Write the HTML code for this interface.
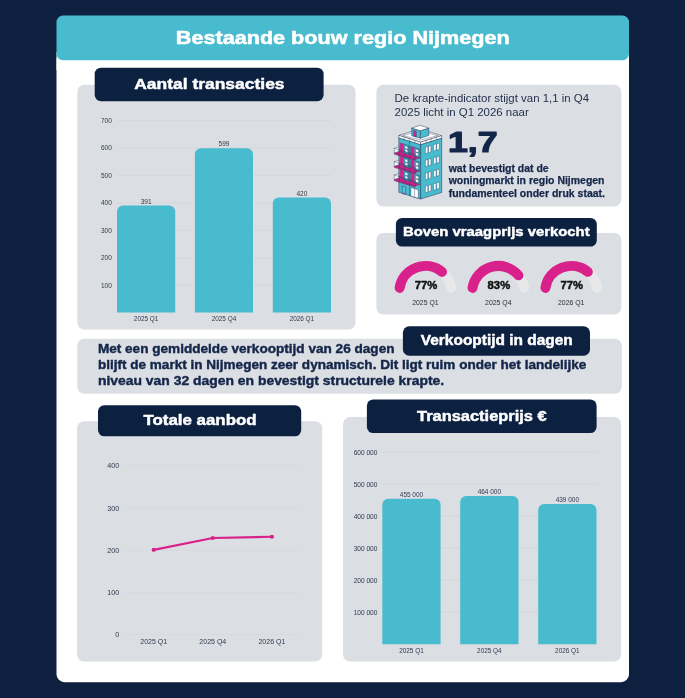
<!DOCTYPE html>
<html lang="nl"><head><meta charset="utf-8"><title>Bestaande bouw regio Nijmegen</title>
<style>
html,body{margin:0;padding:0;background:#0d2040;}
body{width:685px;height:698px;overflow:hidden;font-family:"Liberation Sans",sans-serif;}
svg{display:block;will-change:transform;font-family:"Liberation Sans",sans-serif;}
</style></head><body>
<svg width="685" height="698" viewBox="0 0 685 698">
<rect x="0.00" y="0.00" width="685.00" height="698.00" rx="0" ry="0" fill="#0d2040"/>
<rect x="56.50" y="52.00" width="572.50" height="630.20" rx="8" ry="8" fill="#ffffff"/>
<rect x="56.50" y="52.00" width="572.50" height="18.00" rx="0" ry="0" fill="#ffffff"/>
<rect x="56.50" y="15.60" width="572.50" height="44.60" rx="6.5" ry="6.5" fill="#48bbce"/>
<text x="175.80" y="43.50" font-size="19.0" font-weight="bold" fill="#ffffff" textLength="333.90" lengthAdjust="spacingAndGlyphs" stroke="#ffffff" stroke-width="0.55" stroke-linejoin="round">Bestaande bouw regio Nijmegen</text>
<rect x="77.40" y="84.80" width="278.10" height="244.70" rx="7" ry="7" fill="#dbdee2"/>
<rect x="94.70" y="67.70" width="228.90" height="33.50" rx="6.3" ry="6.3" fill="#0c2040"/>
<text x="134.20" y="88.60" font-size="14.7" font-weight="bold" fill="#ffffff" textLength="150.40" lengthAdjust="spacingAndGlyphs" stroke="#ffffff" stroke-width="0.45" stroke-linejoin="round">Aantal transacties</text>
<line x1="117" x2="331" y1="285.29" y2="285.29" stroke="#d0d3d8" stroke-width="0.65"/>
<text x="111.80" y="287.66" font-size="6.5" text-anchor="end" fill="#2f3950">100</text>
<line x1="117" x2="331" y1="257.83" y2="257.83" stroke="#d0d3d8" stroke-width="0.65"/>
<text x="111.80" y="260.20" font-size="6.5" text-anchor="end" fill="#2f3950">200</text>
<line x1="117" x2="331" y1="230.37" y2="230.37" stroke="#d0d3d8" stroke-width="0.65"/>
<text x="111.80" y="232.74" font-size="6.5" text-anchor="end" fill="#2f3950">300</text>
<line x1="117" x2="331" y1="202.91" y2="202.91" stroke="#d0d3d8" stroke-width="0.65"/>
<text x="111.80" y="205.28" font-size="6.5" text-anchor="end" fill="#2f3950">400</text>
<line x1="117" x2="331" y1="175.45" y2="175.45" stroke="#d0d3d8" stroke-width="0.65"/>
<text x="111.80" y="177.82" font-size="6.5" text-anchor="end" fill="#2f3950">500</text>
<line x1="117" x2="331" y1="147.99" y2="147.99" stroke="#d0d3d8" stroke-width="0.65"/>
<text x="111.80" y="150.36" font-size="6.5" text-anchor="end" fill="#2f3950">600</text>
<line x1="117" x2="331" y1="120.53" y2="120.53" stroke="#d0d3d8" stroke-width="0.65"/>
<text x="111.80" y="122.90" font-size="6.5" text-anchor="end" fill="#2f3950">700</text>
<path d="M117.00 312.50V211.38a6 6 0 0 1 6 -6H169.20a6 6 0 0 1 6 6V312.50Z" fill="#48bbce"/>
<text x="146.10" y="203.55" font-size="6.5" text-anchor="middle" fill="#2f3950">391</text>
<text x="146.10" y="320.83" font-size="6.4" text-anchor="middle" fill="#2f3950">2025 Q1</text>
<path d="M194.90 312.50V154.26a6 6 0 0 1 6 -6H247.00a6 6 0 0 1 6 6V312.50Z" fill="#48bbce"/>
<text x="223.95" y="146.43" font-size="6.5" text-anchor="middle" fill="#2f3950">599</text>
<text x="223.95" y="320.83" font-size="6.4" text-anchor="middle" fill="#2f3950">2025 Q4</text>
<path d="M272.80 312.50V203.42a6 6 0 0 1 6 -6H325.00a6 6 0 0 1 6 6V312.50Z" fill="#48bbce"/>
<text x="301.90" y="195.59" font-size="6.5" text-anchor="middle" fill="#2f3950">420</text>
<text x="301.90" y="320.83" font-size="6.4" text-anchor="middle" fill="#2f3950">2026 Q1</text>
<rect x="376.40" y="84.70" width="244.90" height="121.80" rx="7" ry="7" fill="#dbdee2"/>
<text x="394.60" y="102.30" font-size="11.4" font-weight="normal" fill="#24304f" textLength="194.50" lengthAdjust="spacingAndGlyphs">De krapte-indicator stijgt van 1,1 in Q4</text>
<text x="394.60" y="115.70" font-size="11.4" font-weight="normal" fill="#24304f" textLength="134.10" lengthAdjust="spacingAndGlyphs">2025 licht in Q1 2026 naar</text>
<text x="447.90" y="152.10" font-size="29.2" font-weight="bold" fill="#14264a" textLength="49.70" lengthAdjust="spacingAndGlyphs" stroke="#14264a" stroke-width="1.2" stroke-linejoin="round">1,7</text>
<text x="448.70" y="171.90" font-size="10.5" font-weight="bold" fill="#14264a" textLength="99.90" lengthAdjust="spacingAndGlyphs" stroke="#14264a" stroke-width="0.25" stroke-linejoin="round">wat bevestigt dat de</text>
<text x="448.70" y="184.40" font-size="10.5" font-weight="bold" fill="#14264a" textLength="155.80" lengthAdjust="spacingAndGlyphs" stroke="#14264a" stroke-width="0.25" stroke-linejoin="round">woningmarkt in regio Nijmegen</text>
<text x="448.70" y="196.80" font-size="10.5" font-weight="bold" fill="#14264a" textLength="156.30" lengthAdjust="spacingAndGlyphs" stroke="#14264a" stroke-width="0.25" stroke-linejoin="round">fundamenteel onder druk staat.</text>
<g>
<polygon points="398.80,135.40 419.90,128.86 441.70,135.62 420.60,142.16" fill="#ffffff" stroke="#14264a" stroke-width="0.45" stroke-linejoin="round"/>
<polygon points="402.64,135.40 419.90,131.02 437.86,135.62 420.60,140.00" fill="#ffffff" stroke="#14264a" stroke-width="0.35" stroke-linejoin="round"/>
<polygon points="398.80,135.40 420.60,142.16 420.60,144.76 398.80,138.00" fill="#ffffff" stroke="#14264a" stroke-width="0.45" stroke-linejoin="round"/>
<polygon points="420.60,142.16 441.70,135.62 441.70,138.22 420.60,144.76" fill="#ffffff" stroke="#14264a" stroke-width="0.45" stroke-linejoin="round"/>
<line x1="404.20" y1="137.07" x2="404.20" y2="139.67" stroke="#14264a" stroke-width="0.3" stroke-linecap="round"/>
<line x1="409.60" y1="138.75" x2="409.60" y2="141.35" stroke="#14264a" stroke-width="0.3" stroke-linecap="round"/>
<line x1="415.00" y1="140.42" x2="415.00" y2="143.02" stroke="#14264a" stroke-width="0.3" stroke-linecap="round"/>
<line x1="426.00" y1="140.48" x2="426.00" y2="143.08" stroke="#14264a" stroke-width="0.3" stroke-linecap="round"/>
<line x1="431.20" y1="138.87" x2="431.20" y2="141.47" stroke="#14264a" stroke-width="0.3" stroke-linecap="round"/>
<line x1="436.40" y1="137.26" x2="436.40" y2="139.86" stroke="#14264a" stroke-width="0.3" stroke-linecap="round"/>
<polygon points="398.80,138.00 420.60,144.76 420.60,199.06 398.80,192.30" fill="#48bbce" stroke="#14264a" stroke-width="0.45" stroke-linejoin="round"/>
<polygon points="420.60,144.76 441.70,138.22 441.70,192.52 420.60,199.06" fill="#48bbce" stroke="#14264a" stroke-width="0.45" stroke-linejoin="round"/>
<line x1="409.50" y1="141.32" x2="409.50" y2="195.62" stroke="#14264a" stroke-width="0.35" stroke-linecap="round"/>
<polygon points="411.70,128.10 420.40,130.70 420.40,138.30 411.70,135.70" fill="#48bbce" stroke="#14264a" stroke-width="0.45" stroke-linejoin="round"/>
<polygon points="420.40,130.70 428.80,128.10 428.80,135.50 420.40,138.30" fill="#48bbce" stroke="#14264a" stroke-width="0.45" stroke-linejoin="round"/>
<polygon points="411.70,128.10 419.90,125.30 428.80,128.10 420.40,130.70" fill="#ffffff" stroke="#14264a" stroke-width="0.45" stroke-linejoin="round"/>
<polygon points="413.70,130.42 416.30,131.23 416.30,136.93 413.70,136.12" fill="#d9218c" stroke="#14264a" stroke-width="0.3" stroke-linejoin="round"/>
<polygon points="425.40,147.17 427.80,146.43 427.80,152.93 425.40,153.67" fill="#ffffff" stroke="#14264a" stroke-width="0.35" stroke-linejoin="round"/>
<polygon points="428.50,146.21 430.90,145.47 430.90,151.97 428.50,152.71" fill="#ffffff" stroke="#14264a" stroke-width="0.35" stroke-linejoin="round"/>
<polygon points="433.60,144.63 436.05,143.87 436.05,150.37 433.60,151.13" fill="#ffffff" stroke="#14264a" stroke-width="0.35" stroke-linejoin="round"/>
<polygon points="436.75,143.65 439.20,142.89 439.20,149.39 436.75,150.15" fill="#ffffff" stroke="#14264a" stroke-width="0.35" stroke-linejoin="round"/>
<polygon points="425.40,160.22 427.80,159.48 427.80,165.98 425.40,166.72" fill="#ffffff" stroke="#14264a" stroke-width="0.35" stroke-linejoin="round"/>
<polygon points="428.50,159.26 430.90,158.52 430.90,165.02 428.50,165.76" fill="#ffffff" stroke="#14264a" stroke-width="0.35" stroke-linejoin="round"/>
<polygon points="433.60,157.68 436.05,156.92 436.05,163.42 433.60,164.18" fill="#ffffff" stroke="#14264a" stroke-width="0.35" stroke-linejoin="round"/>
<polygon points="436.75,156.70 439.20,155.94 439.20,162.44 436.75,163.20" fill="#ffffff" stroke="#14264a" stroke-width="0.35" stroke-linejoin="round"/>
<polygon points="425.40,173.27 427.80,172.53 427.80,179.03 425.40,179.77" fill="#ffffff" stroke="#14264a" stroke-width="0.35" stroke-linejoin="round"/>
<polygon points="428.50,172.31 430.90,171.57 430.90,178.07 428.50,178.81" fill="#ffffff" stroke="#14264a" stroke-width="0.35" stroke-linejoin="round"/>
<polygon points="433.60,170.73 436.05,169.97 436.05,176.47 433.60,177.23" fill="#ffffff" stroke="#14264a" stroke-width="0.35" stroke-linejoin="round"/>
<polygon points="436.75,169.75 439.20,168.99 439.20,175.49 436.75,176.25" fill="#ffffff" stroke="#14264a" stroke-width="0.35" stroke-linejoin="round"/>
<polygon points="425.40,186.32 427.80,185.58 427.80,192.08 425.40,192.82" fill="#ffffff" stroke="#14264a" stroke-width="0.35" stroke-linejoin="round"/>
<polygon points="428.50,185.36 430.90,184.62 430.90,191.12 428.50,191.86" fill="#ffffff" stroke="#14264a" stroke-width="0.35" stroke-linejoin="round"/>
<polygon points="433.60,183.78 436.05,183.02 436.05,189.52 433.60,190.28" fill="#ffffff" stroke="#14264a" stroke-width="0.35" stroke-linejoin="round"/>
<polygon points="436.75,182.80 439.20,182.04 439.20,188.54 436.75,189.30" fill="#ffffff" stroke="#14264a" stroke-width="0.35" stroke-linejoin="round"/>
<polygon points="400.20,142.83 408.60,145.44 408.60,154.54 400.20,151.93" fill="#3aa5bb" stroke="#14264a" stroke-width="0.3" stroke-linejoin="round"/>
<polygon points="410.60,146.06 419.40,148.79 419.40,157.89 410.60,155.16" fill="#3aa5bb" stroke="#14264a" stroke-width="0.3" stroke-linejoin="round"/>
<polygon points="400.20,143.03 403.70,144.12 403.70,153.02 400.20,151.93" fill="#d9218c"/>
<polygon points="410.80,146.32 414.40,147.44 414.40,156.34 410.80,155.22" fill="#d9218c"/>
<polygon points="404.90,145.69 407.70,146.56 407.70,149.26 404.90,148.39" fill="#ffffff" stroke="#14264a" stroke-width="0.3" stroke-linejoin="round"/>
<polygon points="404.90,149.19 407.70,150.06 407.70,152.76 404.90,151.89" fill="#ffffff" stroke="#14264a" stroke-width="0.3" stroke-linejoin="round"/>
<polygon points="415.50,148.98 418.50,149.91 418.50,152.61 415.50,151.68" fill="#ffffff" stroke="#14264a" stroke-width="0.3" stroke-linejoin="round"/>
<polygon points="415.50,152.48 418.50,153.41 418.50,156.11 415.50,155.18" fill="#ffffff" stroke="#14264a" stroke-width="0.3" stroke-linejoin="round"/>
<polygon points="398.80,151.50 419.60,157.95 415.10,159.40 394.30,152.95" fill="#d9218c" stroke="#14264a" stroke-width="0.3" stroke-linejoin="round"/>
<polygon points="394.30,152.95 415.10,159.40 415.10,160.70 394.30,154.25" fill="#d9218c" stroke="#14264a" stroke-width="0.25" stroke-linejoin="round"/>
<polygon points="394.30,152.95 398.80,151.50 398.80,146.90 394.30,148.35" fill="#ffffff" fill-opacity="0.75" stroke="#14264a" stroke-width="0.35" stroke-linejoin="round"/>
<line x1="394.30" y1="148.35" x2="415.10" y2="154.80" stroke="#14264a" stroke-width="0.35" stroke-linecap="round"/>
<line x1="415.10" y1="154.80" x2="415.10" y2="159.40" stroke="#14264a" stroke-width="0.35" stroke-linecap="round"/>
<line x1="399.50" y1="149.96" x2="399.50" y2="154.56" stroke="#14264a" stroke-width="0.25" stroke-linecap="round"/>
<line x1="404.70" y1="151.57" x2="404.70" y2="156.17" stroke="#14264a" stroke-width="0.25" stroke-linecap="round"/>
<line x1="409.90" y1="153.19" x2="409.90" y2="157.79" stroke="#14264a" stroke-width="0.25" stroke-linecap="round"/>
<polygon points="400.20,156.13 408.60,158.74 408.60,167.84 400.20,165.23" fill="#3aa5bb" stroke="#14264a" stroke-width="0.3" stroke-linejoin="round"/>
<polygon points="410.60,159.36 419.40,162.09 419.40,171.19 410.60,168.46" fill="#3aa5bb" stroke="#14264a" stroke-width="0.3" stroke-linejoin="round"/>
<polygon points="400.20,156.33 403.70,157.42 403.70,166.32 400.20,165.23" fill="#d9218c"/>
<polygon points="410.80,159.62 414.40,160.74 414.40,169.64 410.80,168.52" fill="#d9218c"/>
<polygon points="404.90,158.99 407.70,159.86 407.70,162.56 404.90,161.69" fill="#ffffff" stroke="#14264a" stroke-width="0.3" stroke-linejoin="round"/>
<polygon points="404.90,162.49 407.70,163.36 407.70,166.06 404.90,165.19" fill="#ffffff" stroke="#14264a" stroke-width="0.3" stroke-linejoin="round"/>
<polygon points="415.50,162.28 418.50,163.21 418.50,165.91 415.50,164.98" fill="#ffffff" stroke="#14264a" stroke-width="0.3" stroke-linejoin="round"/>
<polygon points="415.50,165.78 418.50,166.71 418.50,169.41 415.50,168.48" fill="#ffffff" stroke="#14264a" stroke-width="0.3" stroke-linejoin="round"/>
<polygon points="398.80,164.80 419.60,171.25 415.10,172.70 394.30,166.25" fill="#d9218c" stroke="#14264a" stroke-width="0.3" stroke-linejoin="round"/>
<polygon points="394.30,166.25 415.10,172.70 415.10,174.00 394.30,167.55" fill="#d9218c" stroke="#14264a" stroke-width="0.25" stroke-linejoin="round"/>
<polygon points="394.30,166.25 398.80,164.80 398.80,160.20 394.30,161.65" fill="#ffffff" fill-opacity="0.75" stroke="#14264a" stroke-width="0.35" stroke-linejoin="round"/>
<line x1="394.30" y1="161.65" x2="415.10" y2="168.10" stroke="#14264a" stroke-width="0.35" stroke-linecap="round"/>
<line x1="415.10" y1="168.10" x2="415.10" y2="172.70" stroke="#14264a" stroke-width="0.35" stroke-linecap="round"/>
<line x1="399.50" y1="163.26" x2="399.50" y2="167.86" stroke="#14264a" stroke-width="0.25" stroke-linecap="round"/>
<line x1="404.70" y1="164.87" x2="404.70" y2="169.47" stroke="#14264a" stroke-width="0.25" stroke-linecap="round"/>
<line x1="409.90" y1="166.49" x2="409.90" y2="171.09" stroke="#14264a" stroke-width="0.25" stroke-linecap="round"/>
<polygon points="400.20,169.43 408.60,172.04 408.60,181.14 400.20,178.53" fill="#3aa5bb" stroke="#14264a" stroke-width="0.3" stroke-linejoin="round"/>
<polygon points="410.60,172.66 419.40,175.39 419.40,184.49 410.60,181.76" fill="#3aa5bb" stroke="#14264a" stroke-width="0.3" stroke-linejoin="round"/>
<polygon points="400.20,169.63 403.70,170.72 403.70,179.62 400.20,178.53" fill="#d9218c"/>
<polygon points="410.80,172.92 414.40,174.04 414.40,182.94 410.80,181.82" fill="#d9218c"/>
<polygon points="404.90,172.29 407.70,173.16 407.70,175.86 404.90,174.99" fill="#ffffff" stroke="#14264a" stroke-width="0.3" stroke-linejoin="round"/>
<polygon points="404.90,175.79 407.70,176.66 407.70,179.36 404.90,178.49" fill="#ffffff" stroke="#14264a" stroke-width="0.3" stroke-linejoin="round"/>
<polygon points="415.50,175.58 418.50,176.51 418.50,179.21 415.50,178.28" fill="#ffffff" stroke="#14264a" stroke-width="0.3" stroke-linejoin="round"/>
<polygon points="415.50,179.08 418.50,180.01 418.50,182.71 415.50,181.78" fill="#ffffff" stroke="#14264a" stroke-width="0.3" stroke-linejoin="round"/>
<polygon points="398.80,178.10 419.60,184.55 415.10,186.00 394.30,179.55" fill="#d9218c" stroke="#14264a" stroke-width="0.3" stroke-linejoin="round"/>
<polygon points="394.30,179.55 415.10,186.00 415.10,187.30 394.30,180.85" fill="#d9218c" stroke="#14264a" stroke-width="0.25" stroke-linejoin="round"/>
<polygon points="394.30,179.55 398.80,178.10 398.80,173.50 394.30,174.95" fill="#ffffff" fill-opacity="0.75" stroke="#14264a" stroke-width="0.35" stroke-linejoin="round"/>
<line x1="394.30" y1="174.95" x2="415.10" y2="181.40" stroke="#14264a" stroke-width="0.35" stroke-linecap="round"/>
<line x1="415.10" y1="181.40" x2="415.10" y2="186.00" stroke="#14264a" stroke-width="0.35" stroke-linecap="round"/>
<line x1="399.50" y1="176.56" x2="399.50" y2="181.16" stroke="#14264a" stroke-width="0.25" stroke-linecap="round"/>
<line x1="404.70" y1="178.17" x2="404.70" y2="182.77" stroke="#14264a" stroke-width="0.25" stroke-linecap="round"/>
<line x1="409.90" y1="179.79" x2="409.90" y2="184.39" stroke="#14264a" stroke-width="0.25" stroke-linecap="round"/>
<polygon points="402.20,186.05 405.60,187.11 405.60,194.41 402.20,193.35" fill="#5cc4d6" stroke="#14264a" stroke-width="0.4" stroke-linejoin="round"/>
<polygon points="403.20,192.56 405.20,193.18 405.20,194.28 403.20,193.66" fill="#d9218c"/>
<polygon points="410.90,187.55 418.30,189.84 418.30,198.34 410.90,196.05" fill="#ffffff" stroke="#14264a" stroke-width="0.4" stroke-linejoin="round"/>
<line x1="414.60" y1="188.70" x2="414.60" y2="197.20" stroke="#14264a" stroke-width="0.35" stroke-linecap="round"/>
</g>
<rect x="376.40" y="233.00" width="244.90" height="81.50" rx="7" ry="7" fill="#dbdee2"/>
<rect x="395.90" y="217.90" width="200.90" height="28.70" rx="6.3" ry="6.3" fill="#0c2040"/>
<text x="403.00" y="236.40" font-size="13.3" font-weight="bold" fill="#ffffff" textLength="186.60" lengthAdjust="spacingAndGlyphs" stroke="#ffffff" stroke-width="0.45" stroke-linejoin="round">Boven vraagprijs verkocht</text>
<path d="M399.62 287.90A26.1 26.1 0 0 1 451.18 287.90" fill="none" stroke="#e8e8eb" stroke-width="10.0" stroke-linecap="round"/>
<path d="M399.62 287.90A26.1 26.1 0 0 1 442.02 271.88" fill="none" stroke="#d9218c" stroke-width="10.0" stroke-linecap="round"/>
<text x="414.70" y="288.50" font-size="10.9" font-weight="bold" fill="#111111" stroke="#111111" stroke-width="0.45" textLength="22.6" lengthAdjust="spacingAndGlyphs">77%</text>
<text x="425.40" y="304.72" font-size="6.9" text-anchor="middle" fill="#2a2e3c">2025 Q1</text>
<path d="M472.52 287.90A26.1 26.1 0 0 1 524.08 287.90" fill="none" stroke="#e8e8eb" stroke-width="10.0" stroke-linecap="round"/>
<path d="M472.52 287.90A26.1 26.1 0 0 1 518.40 275.35" fill="none" stroke="#d9218c" stroke-width="10.0" stroke-linecap="round"/>
<text x="487.60" y="288.50" font-size="10.9" font-weight="bold" fill="#111111" stroke="#111111" stroke-width="0.45" textLength="22.6" lengthAdjust="spacingAndGlyphs">83%</text>
<text x="498.30" y="304.72" font-size="6.9" text-anchor="middle" fill="#2a2e3c">2025 Q4</text>
<path d="M545.42 287.90A26.1 26.1 0 0 1 596.98 287.90" fill="none" stroke="#e8e8eb" stroke-width="10.0" stroke-linecap="round"/>
<path d="M545.42 287.90A26.1 26.1 0 0 1 587.82 271.88" fill="none" stroke="#d9218c" stroke-width="10.0" stroke-linecap="round"/>
<text x="560.50" y="288.50" font-size="10.9" font-weight="bold" fill="#111111" stroke="#111111" stroke-width="0.45" textLength="22.6" lengthAdjust="spacingAndGlyphs">77%</text>
<text x="571.20" y="304.72" font-size="6.9" text-anchor="middle" fill="#2a2e3c">2026 Q1</text>
<rect x="77.30" y="338.80" width="544.50" height="55.00" rx="7" ry="7" fill="#dbdee2"/>
<text x="97.90" y="353.40" font-size="12.2" font-weight="bold" fill="#14264a" textLength="296.60" lengthAdjust="spacingAndGlyphs" stroke="#14264a" stroke-width="0.4" stroke-linejoin="round">Met een gemiddelde verkooptijd van 26 dagen</text>
<text x="97.90" y="369.40" font-size="12.2" font-weight="bold" fill="#14264a" textLength="488.50" lengthAdjust="spacingAndGlyphs" stroke="#14264a" stroke-width="0.4" stroke-linejoin="round">blijft de markt in Nijmegen zeer dynamisch. Dit ligt ruim onder het landelijke</text>
<text x="97.90" y="385.20" font-size="12.2" font-weight="bold" fill="#14264a" textLength="346.30" lengthAdjust="spacingAndGlyphs" stroke="#14264a" stroke-width="0.4" stroke-linejoin="round">niveau van 32 dagen en bevestigt structurele krapte.</text>
<rect x="402.90" y="326.30" width="187.10" height="29.40" rx="6.3" ry="6.3" fill="#0c2040"/>
<text x="420.80" y="345.10" font-size="14.5" font-weight="bold" fill="#ffffff" textLength="152.00" lengthAdjust="spacingAndGlyphs" stroke="#ffffff" stroke-width="0.45" stroke-linejoin="round">Verkooptijd in dagen</text>
<rect x="77.10" y="421.30" width="245.10" height="240.20" rx="7" ry="7" fill="#dbdee2"/>
<rect x="98.00" y="405.20" width="203.20" height="31.10" rx="6.3" ry="6.3" fill="#0c2040"/>
<text x="143.40" y="425.10" font-size="14.7" font-weight="bold" fill="#ffffff" textLength="113.20" lengthAdjust="spacingAndGlyphs" stroke="#ffffff" stroke-width="0.45" stroke-linejoin="round">Totale aanbod</text>
<line x1="124" x2="301.3" y1="634.70" y2="634.70" stroke="#d0d3d8" stroke-width="0.6" opacity="0.7"/>
<text x="119.20" y="637.32" font-size="7.2" text-anchor="end" fill="#2f3950">0</text>
<line x1="124" x2="301.3" y1="592.48" y2="592.48" stroke="#d0d3d8" stroke-width="0.6" opacity="0.7"/>
<text x="119.20" y="595.10" font-size="7.2" text-anchor="end" fill="#2f3950">100</text>
<line x1="124" x2="301.3" y1="550.26" y2="550.26" stroke="#d0d3d8" stroke-width="0.6" opacity="0.7"/>
<text x="119.20" y="552.88" font-size="7.2" text-anchor="end" fill="#2f3950">200</text>
<line x1="124" x2="301.3" y1="508.04" y2="508.04" stroke="#d0d3d8" stroke-width="0.6" opacity="0.7"/>
<text x="119.20" y="510.66" font-size="7.2" text-anchor="end" fill="#2f3950">300</text>
<line x1="124" x2="301.3" y1="465.82" y2="465.82" stroke="#d0d3d8" stroke-width="0.6" opacity="0.7"/>
<text x="119.20" y="468.44" font-size="7.2" text-anchor="end" fill="#2f3950">400</text>
<polyline points="153.70,549.84 212.80,538.02 271.90,536.75" fill="none" stroke="#d9218c" stroke-width="2.2" stroke-linejoin="round" stroke-linecap="round"/>
<circle cx="153.70" cy="549.84" r="2.1" fill="#d9218c"/>
<circle cx="212.80" cy="538.02" r="2.1" fill="#d9218c"/>
<circle cx="271.90" cy="536.75" r="2.1" fill="#d9218c"/>
<text x="153.70" y="643.85" font-size="7.0" text-anchor="middle" fill="#2f3950">2025 Q1</text>
<text x="212.80" y="643.85" font-size="7.0" text-anchor="middle" fill="#2f3950">2025 Q4</text>
<text x="271.90" y="643.85" font-size="7.0" text-anchor="middle" fill="#2f3950">2026 Q1</text>
<rect x="343.10" y="417.00" width="278.00" height="244.50" rx="7" ry="7" fill="#dbdee2"/>
<rect x="366.90" y="399.50" width="229.70" height="33.60" rx="6.3" ry="6.3" fill="#0c2040"/>
<text x="417.00" y="420.90" font-size="14.5" font-weight="bold" fill="#ffffff" textLength="129.70" lengthAdjust="spacingAndGlyphs" stroke="#ffffff" stroke-width="0.45" stroke-linejoin="round">Transactieprijs €</text>
<line x1="382.3" x2="596.5" y1="612.33" y2="612.33" stroke="#d0d3d8" stroke-width="0.65"/>
<text x="377.40" y="614.72" font-size="6.55" text-anchor="end" fill="#2f3950">100 000</text>
<line x1="382.3" x2="596.5" y1="580.36" y2="580.36" stroke="#d0d3d8" stroke-width="0.65"/>
<text x="377.40" y="582.75" font-size="6.55" text-anchor="end" fill="#2f3950">200 000</text>
<line x1="382.3" x2="596.5" y1="548.39" y2="548.39" stroke="#d0d3d8" stroke-width="0.65"/>
<text x="377.40" y="550.78" font-size="6.55" text-anchor="end" fill="#2f3950">300 000</text>
<line x1="382.3" x2="596.5" y1="516.42" y2="516.42" stroke="#d0d3d8" stroke-width="0.65"/>
<text x="377.40" y="518.81" font-size="6.55" text-anchor="end" fill="#2f3950">400 000</text>
<line x1="382.3" x2="596.5" y1="484.45" y2="484.45" stroke="#d0d3d8" stroke-width="0.65"/>
<text x="377.40" y="486.84" font-size="6.55" text-anchor="end" fill="#2f3950">500 000</text>
<line x1="382.3" x2="596.5" y1="452.48" y2="452.48" stroke="#d0d3d8" stroke-width="0.65"/>
<text x="377.40" y="454.87" font-size="6.55" text-anchor="end" fill="#2f3950">600 000</text>
<path d="M382.30 644.30V504.84a6 6 0 0 1 6 -6H434.60a6 6 0 0 1 6 6V644.30Z" fill="#48bbce"/>
<text x="411.45" y="496.89" font-size="6.45" text-anchor="middle" fill="#2f3950">455 000</text>
<text x="411.45" y="652.73" font-size="6.4" text-anchor="middle" fill="#2f3950">2025 Q1</text>
<path d="M460.20 644.30V501.96a6 6 0 0 1 6 -6H512.50a6 6 0 0 1 6 6V644.30Z" fill="#48bbce"/>
<text x="489.35" y="494.01" font-size="6.45" text-anchor="middle" fill="#2f3950">464 000</text>
<text x="489.35" y="652.73" font-size="6.4" text-anchor="middle" fill="#2f3950">2025 Q4</text>
<path d="M538.20 644.30V509.95a6 6 0 0 1 6 -6H590.50a6 6 0 0 1 6 6V644.30Z" fill="#48bbce"/>
<text x="567.35" y="502.00" font-size="6.45" text-anchor="middle" fill="#2f3950">439 000</text>
<text x="567.35" y="652.73" font-size="6.4" text-anchor="middle" fill="#2f3950">2026 Q1</text>
</svg>
</body></html>
